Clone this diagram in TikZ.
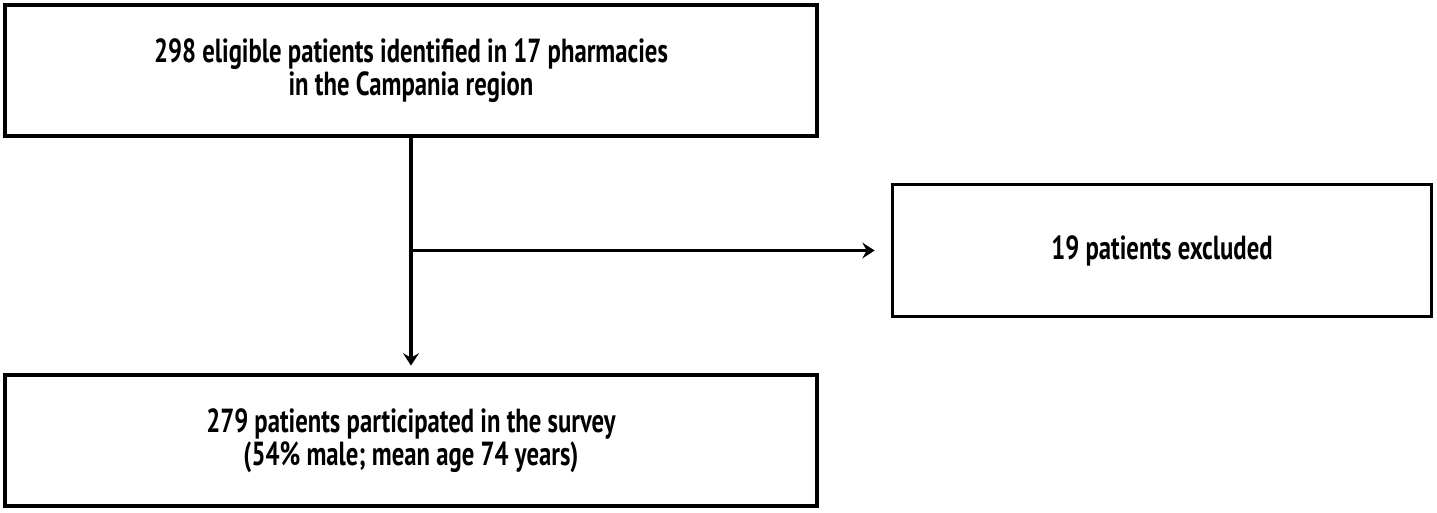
\documentclass[tikz,border=0pt]{standalone}
\usepackage{fontspec}
\setmainfont{PT Sans}[FakeStretch=0.74]
\usetikzlibrary{positioning,arrows.meta}

\begin{document}
\begin{tikzpicture}
  [x=0.02cm,y=-0.02cm,line width=1.9pt,
   every node/.style={font=\bfseries\fontsize{19}{18.6}\selectfont,align=center},
   stepbox/.style={draw,line width=2.2pt,rectangle,minimum width=16.26cm,minimum height=2.62cm,inner sep=0pt},
   sidebox/.style={stepbox,minimum width=10.78cm,minimum height=2.64cm},
   flow/.style={-{Stealth[length=7pt,width=9pt,inset=2.5pt]}}]
  \useasboundingbox (0,0) rectangle (1437,512);
  \node[stepbox] (elig) at (411,70.5) {298 eligible patients identified in 17 pharmacies\\in the Campania region};
  \node[sidebox] (excl) at (1162,250.5) {19 patients excluded};
  \node[stepbox] (surv) at (411,440.5) {279 patients participated in the survey\\(54\% male; mean age 74 years)};

  \coordinate (branch) at (elig.south |- excl.west);
  \draw[flow,shorten >=0.15cm] (elig.south) -- (surv.north);
  \draw[flow,shorten >=0.32cm] (branch) -- (excl.west);

\end{tikzpicture}
\end{document}
